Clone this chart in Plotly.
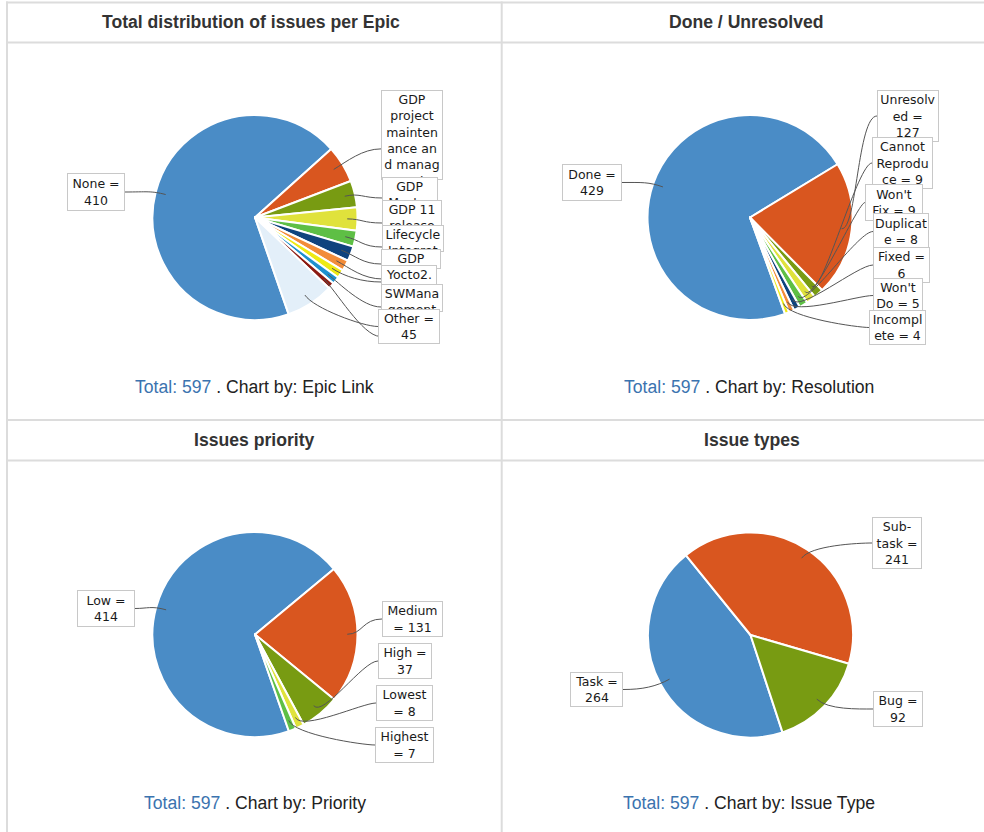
import math
import plotly.graph_objects as go

# ---------------- data ----------------
epic_categories = ["None", "GDP project maintenance and management", "GDP Master", "GDP 11 release",
                   "Lifecycle Integration", "GDP Chromium", "GDP Persistence", "Yocto2.x",
                   "SWManagement", "Audio Manager", "Other"]
epic_values = [410, 35, 25, 22, 15, 14, 10, 8, 7, 6, 45]
epic_label_text = ["None =<br>{v}", "GDP<br>project<br>mainten<br>ance an<br>d manag<br>ement =<br>{v}",
                   "GDP<br>Master<br>= {v}", "GDP 11<br>release<br>= {v}", "Lifecycle<br>Integrat<br>ion = {v}",
                   "GDP<br>Chromiu<br>m = {v}", "GDP<br>Persiste<br>nce = {v}", "Yocto2.<br>x = {v}",
                   "SWMana<br>gement<br>= {v}", "Audio<br>Manager<br>= {v}", "Other =<br>{v}"]

resolution_categories = ["Done", "Unresolved", "Cannot Reproduce", "Won't Fix", "Duplicate", "Fixed",
                         "Won't Do", "Incomplete"]
resolution_values = [429, 127, 9, 9, 8, 6, 5, 4]
resolution_label_text = ["Done =<br>{v}", "Unresolv<br>ed =<br>{v}", "Cannot<br>Reprodu<br>ce = {v}",
                         "Won't<br>Fix = {v}", "Duplicat<br>e = {v}", "Fixed =<br>{v}", "Won't<br>Do = {v}",
                         "Incompl<br>ete = {v}"]

priority_categories = ["Low", "Medium", "High", "Lowest", "Highest"]
priority_values = [414, 131, 37, 8, 7]
priority_label_text = ["Low =<br>{v}", "Medium<br>= {v}", "High =<br>{v}", "Lowest<br>= {v}", "Highest<br>= {v}"]

type_categories = ["Task", "Sub-task", "Bug"]
type_values = [264, 241, 92]
type_label_text = ["Task =<br>{v}", "Sub-<br>task =<br>{v}", "Bug =<br>{v}"]

chart_titles = ["Total distribution of issues per Epic", "Done / Unresolved", "Issues priority", "Issue types"]
chart_by = ["Epic Link", "Resolution", "Priority", "Issue Type"]

# ---------------- styles / layout ----------------
FIG_W, FIG_H = 984, 832
PIE_R = 102.5
palette = ["#4a8cc6", "#d9561f", "#789b12", "#e0e23c", "#5ebf45", "#0f437e", "#f28c3a",
           "#eeea14", "#1e90cf", "#8c1b12"]
other_color = "#e3eff9"
epic_colors = palette[:10] + [other_color]

# positions below are in page pixels
pie_centers = [(255, 217.5), (750, 217.5), (255, 634.5), (750.5, 635)]
pie_rotations = [160.8, 160.0, 160.7, 161.8]

# label boxes: (left, top, outer width, outer height, side, clipped)
epic_boxes = [(67, 173, 58, 38, "L", False), (381, 90, 62, 90, "R", True), (382, 177, 56, 26, "R", True),
              (382, 200, 60, 28, "R", True), (382, 225, 62, 27, "R", True), (381, 249, 60, 20, "R", True),
              (383, 266, 52, 18, "R", True), (381, 265, 56, 22, "R", True), (381, 284, 62, 28, "R", True),
              (380, 310, 58, 32, "R", True), (378, 309, 62, 35, "R", False)]
resolution_boxes = [(562, 164, 60, 37, "L", False), (877, 90, 62, 52, "R", False), (872, 137, 61, 52, "R", False),
                    (865, 184, 58, 37, "R", False), (873, 213, 56, 37, "R", False), (873, 247, 57, 36, "R", False),
                    (873, 278, 50, 35, "R", False), (869, 310, 57, 35, "R", False)]
priority_boxes = [(77, 590, 58, 37, "L", False), (382, 601, 61, 36, "R", False), (378, 643, 54, 36, "R", False),
                  (376, 685, 57, 36, "R", False), (375, 727, 59, 36, "R", False)]
type_boxes = [(570, 672, 53, 35, "L", False), (872, 517, 50, 52, "R", False), (873, 691, 50, 36, "R", False)]

title_pos = [(251, 22), (745.5, 22), (254, 440), (752, 440)]
footer_pos = [(254.5, 387), (749, 387), (254.5, 803), (749, 803)]
HEAD_FS = 17.6

LABEL_FS = 12.5
BORDER_W, BORDER_PAD = 1, 1
BF = BORDER_W + BORDER_PAD


def px(x):
    return x / FIG_W


def py(y):
    return 1 - y / FIG_H


charts = [
    (epic_categories, epic_values, epic_label_text, epic_colors, epic_boxes),
    (resolution_categories, resolution_values, resolution_label_text, palette[:8], resolution_boxes),
    (priority_categories, priority_values, priority_label_text, palette[:5], priority_boxes),
    (type_categories, type_values, type_label_text, palette[:3], type_boxes),
]

fig = go.Figure()
shapes = []
annotations = []

# table grid
grid_color = "#dcdcdc"
for y in [2.5, 42.5, 420, 460.5]:
    shapes.append(dict(type="line", xref="paper", yref="paper", x0=px(6), x1=px(984), y0=py(y), y1=py(y),
                       line=dict(color=grid_color, width=2)))
for x in [7, 501.7]:
    shapes.append(dict(type="line", xref="paper", yref="paper", x0=px(x), x1=px(x), y0=py(1.5), y1=py(832),
                       line=dict(color=grid_color, width=2)))

for i, (cats, vals, ltext, cols, boxes) in enumerate(charts):
    cx, cy = pie_centers[i]
    rot = pie_rotations[i]
    fig.add_trace(go.Pie(
        labels=cats, values=vals, sort=False, direction="clockwise", rotation=rot,
        marker=dict(colors=cols, line=dict(color="white", width=2)),
        textinfo="none", showlegend=False,
        hovertemplate="%{label} = %{value}<extra></extra>",
        domain=dict(x=[px(cx - PIE_R), px(cx + PIE_R)], y=[py(cy + PIE_R), py(cy - PIE_R)]),
    ))
    total = sum(vals)
    start = 90 - rot
    cum = 0
    for j, v in enumerate(vals):
        mid = math.radians(start - (cum + v / 2) * 360 / total)
        cum += v
        left, top, ow, oh, side, clipped = boxes[j]
        text = ltext[j].format(v=v)
        nlines = text.count("<br>") + 1
        full_h = nlines * 1.3 * LABEL_FS + 2 * BF
        ty = top + min(full_h / 2, oh - 5) if clipped else top + oh / 2
        lx, ly = cx + 0.9 * PIE_R * math.cos(mid), cy - 0.9 * PIE_R * math.sin(mid)
        ex, ey = cx + 1.05 * PIE_R * math.cos(mid), cy - 1.05 * PIE_R * math.sin(mid)
        if side == "R":
            tx, c1x = left, cx + 1.05 * PIE_R
        else:
            tx, c1x = left + ow, cx - 1.05 * PIE_R
        path = (f"M {px(tx):.5f} {py(ty):.5f} C {px(c1x):.5f} {py(ty):.5f} "
                f"{px(ex):.5f} {py(ey):.5f} {px(lx):.5f} {py(ly):.5f}")
        shapes.append(dict(type="path", xref="paper", yref="paper", path=path,
                           line=dict(color="#555555", width=1)))
        annotations.append(dict(
            x=px(left), y=py(top), xref="paper", yref="paper", xanchor="left", yanchor="top",
            text=text, showarrow=False, align="center", valign="top" if clipped else "middle",
            width=ow - 2 * BF, height=oh - 2 * BF,
            font=dict(family="DejaVu Sans", size=LABEL_FS, color="#1a1a1a"),
            bgcolor="white", bordercolor="#c8c8c8", borderwidth=BORDER_W, borderpad=BORDER_PAD,
        ))

    tx_, ty_ = title_pos[i]
    annotations.append(dict(x=px(tx_), y=py(ty_), xref="paper", yref="paper", xanchor="center",
                            yanchor="middle", showarrow=False, text=f"<b>{chart_titles[i]}</b>",
                            font=dict(family="Liberation Sans", size=HEAD_FS, color="#333333")))
    fx, fy = footer_pos[i]
    annotations.append(dict(x=px(fx), y=py(fy), xref="paper", yref="paper", xanchor="center",
                            yanchor="middle", showarrow=False,
                            text=f"<span style='color:#3b73af'>Total: {total}</span> . Chart by: {chart_by[i]}",
                            font=dict(family="Liberation Sans", size=HEAD_FS, color="#222222")))

fig.update_layout(
    width=FIG_W, height=FIG_H, margin=dict(l=0, r=0, t=0, b=0),
    paper_bgcolor="white", plot_bgcolor="white",
    shapes=shapes, annotations=annotations, showlegend=False,
)
fig.write_html("out.html", config={"displayModeBar": False},
               post_script="document.body.style.margin='0px';document.body.style.overflow='hidden';")
